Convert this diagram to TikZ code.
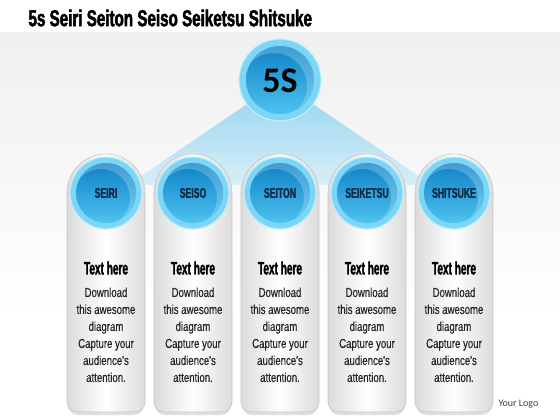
\documentclass[tikz,border=0pt]{standalone}
\usepackage{fontspec}
\setmainfont{Liberation Sans}
\newfontfamily\condt[FakeStretch=0.66,FakeBold=2]{Liberation Sans Bold}
\newfontfamily\condb[FakeStretch=0.62,FakeBold=1.5]{Liberation Sans Bold}
\newfontfamily\condh[FakeStretch=0.56,FakeBold=1.5]{Liberation Sans Bold}
\newfontfamily\condr[FakeStretch=0.74,FakeBold=0.4]{Liberation Sans}
\newfontfamily\logofont{Carlito}
\definecolor{ringc}{HTML}{7DD6F6}
\definecolor{ringb}{HTML}{BDEEFC}
\definecolor{balltop}{HTML}{0F82C6}
\definecolor{ballbot}{HTML}{4EC2F0}
\definecolor{navy}{HTML}{0B2A4A}
\definecolor{fantop}{HTML}{92D4F0}
\definecolor{fanbot}{HTML}{D3EEF9}
\tikzset{
  ring/.style={fill=ringc, draw=ringb, line width=1.2pt},
  ball/.style={top color=balltop, bottom color=ballbot},
  pillar/.style={left color=gray!28, right color=gray!28, middle color=white, draw=gray!45, line width=0.6pt},
  lbl/.style={font=\condb\fontsize{14}{15}\selectfont, text=navy},
  head/.style={font=\condh\fontsize{18}{19}\selectfont, text=black},
  body/.style={font=\condr\fontsize{13}{17}\selectfont, text=black!85, align=center, anchor=north}
}
\begin{document}
\begin{tikzpicture}[x=1pt,y=-1pt]
\useasboundingbox (0,0) rectangle (560,420);
\fill[white] (0,0) rectangle (560,420);
\shade[top color=gray!12, bottom color=white] (0,33) rectangle (560,320);
\node[anchor=west, font=\condt\fontsize{23}{25}\selectfont] (title) at (25,18) {5s Seiri Seiton Seiso Seiketsu Shitsuke};
% fan
\shade[top color=fantop, bottom color=fanbot, opacity=0.85] (250,102) -- (310,102) -- (432,185) -- (128,185) -- cycle;
% 5S circle
\fill[ring] (280,80) circle (41);
\shade[ball] (280,80) circle (34);
\begin{scope}
  \clip (280,80) circle (34);
  \fill[white, opacity=0.22, even odd rule] (280,80) circle (34) (274,86) circle (33);
\end{scope}
\node[font=\logofont\bfseries\fontsize{36}{38}\selectfont, text=black] (top) at (280,81) {5S};
% pillars
\foreach \cx/\lab/\i in {106/SEIRI/1, 193/SEISO/2, 280/SEITON/3, 367/SEIKETSU/4, 454/SHITSUKE/5}{
  \fill[gray!40, opacity=0.6] (\cx-38,196) arc[start angle=180, end angle=360, radius=38] [rounded corners=10]-- (\cx+38,415) -- (\cx-38,415) [sharp corners]-- cycle;
  \shade[pillar] (\cx-39,193) arc[start angle=180, end angle=360, radius=39] [rounded corners=10]-- (\cx+39,412) -- (\cx-39,412) [sharp corners]-- cycle;
  \fill[ring] (\cx,193) circle (36);
  \shade[ball] (\cx,193) circle (30);
  \begin{scope}
    \clip (\cx,193) circle (30);
    \fill[white, opacity=0.22, even odd rule] (\cx,193) circle (30) (\cx-5,198) circle (29);
  \end{scope}
  \node[lbl] (c\i) at (\cx,193) {\lab};
  \node[head] (h\i) at (\cx,268) {Text here};
  \node[body] (b\i) at (\cx,284) {Download\\this awesome\\diagram\\Capture your\\audience's\\attention.};
}
\node[anchor=west, font=\logofont\fontsize{10}{12}\selectfont, text=black!75] (logo) at (495,404) {Your Logo};
\end{tikzpicture}
\end{document}
